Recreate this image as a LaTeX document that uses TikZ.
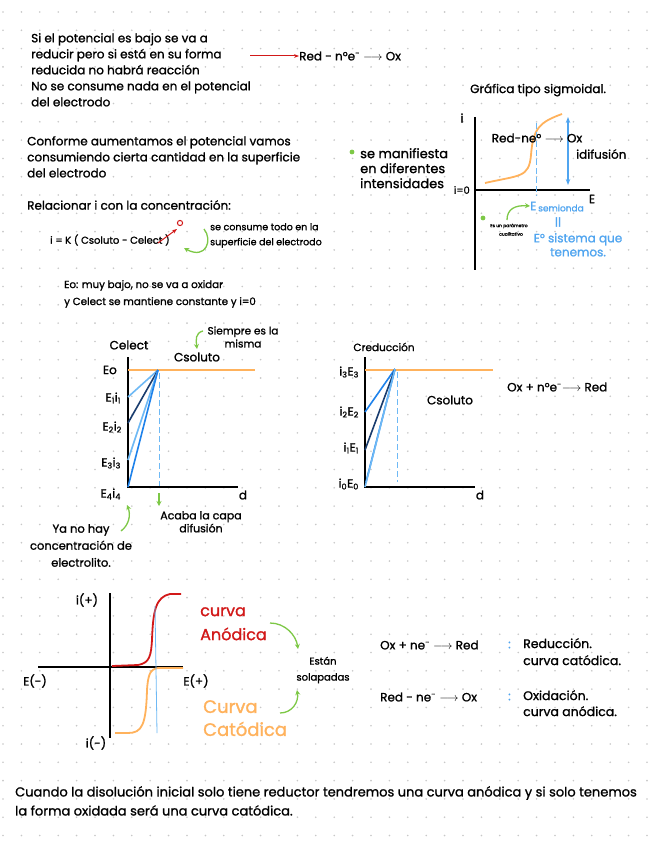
\documentclass[tikz,border=0pt]{standalone}
\usepackage{fontspec}
\setmainfont{Poppins}[FakeBold=1.2]
\usetikzlibrary{arrows.meta, positioning, calc}
\definecolor{curveorange}{RGB}{255,178,92}
\definecolor{skyblue}{RGB}{110,185,245}
\definecolor{midblue}{RGB}{30,130,235}
\definecolor{deepnavy}{RGB}{25,60,110}
\definecolor{leafgreen}{RGB}{125,200,70}
\definecolor{anodered}{RGB}{210,25,25}
\definecolor{dotgrey}{RGB}{200,200,200}
\definecolor{notesblue}{RGB}{80,165,240}

\begin{document}
\begin{tikzpicture}[x=1pt, y=-1pt,
        note/.style={font=\fontsize{12}{16}\selectfont, align=left, anchor=north west, inner sep=0pt},
        label/.style={font=\fontsize{12}{13}\selectfont, inner sep=0pt},
        tiny/.style={font=\fontsize{10.5}{13}\selectfont, inner sep=0pt, align=center},
        axis/.style={line width=1.6pt, black},
        flat/.style={draw=curveorange, line width=1.8pt},
        profile/.style={line width=1.6pt},
        guide/.style={draw=skyblue, dashed, dash pattern=on 6pt off 3pt, line width=0.9pt},
        garrow/.style={-{Stealth[length=5pt, width=5pt]}, draw=leafgreen, line width=1.3pt},
        redarrow/.style={-{Stealth[length=5pt]}, draw=anodered, line width=1pt},
        big/.style={font=\fontsize{16}{24}\selectfont, align=left, anchor=north west, inner sep=0pt}
    ]
        \useasboundingbox[fill=white] (0,0) rectangle (656,848);
        \foreach \gx in {0,...,35}
            \foreach \gy in {0,...,46}
                \fill[dotgrey] (3+18.4*\gx, 12+18.3*\gy) circle[radius=0.9pt];

        % top notes
        \node[note] (lowpot) at (31,33) {Si el potencial es bajo se va a\\reducir pero si está en su forma\\reducida no habrá reacción\\No se consume nada en el potencial\\del electrodo};
        \coordinate (redtail) at (250,56);
        \node[note, anchor=west] (oxid1) at (299,56) {Red - n°e\textsuperscript{-} $\longrightarrow$ Ox};
        \draw[redarrow] (redtail) -- (oxid1.west);

        \node[note] (raise) at (27,136) {Conforme aumentamos el potencial vamos\\consumiendo cierta cantidad en la superficie\\del electrodo};
        \node[note] (relate) at (27,200) {Relacionar i con la concentración:};
        \node[note, anchor=west, font=\fontsize{10}{16}\selectfont] (formula) at (50,240) {i = K ( Csoluto - Celect )};
        \coordinate (strikeA) at (158,243);
        \coordinate (strikeB) at (177,229);
        \draw[redarrow] (strikeA) -- (strikeB);
        \draw[anodered, line width=1pt] (180,223) circle[radius=2.6pt];
        \coordinate (gtop) at (204,229);
        \coordinate (gend) at (184,248);
        \draw[garrow] (gtop) .. controls (213,240) and (206,260) .. (gend);
        \node[note, font=\fontsize{9.5}{15}\selectfont] (consume) at (210,223) {se consume todo en la\\superficie del electrodo};

        % sigmoid
        \node[note, anchor=west] (sigtitle) at (470,90) {Gráfica tipo sigmoidal.};
        \coordinate (sTop) at (475,117);
        \coordinate (sO) at (475,190);
        \coordinate (sBot) at (475,270);
        \coordinate (sEnd) at (590,190);
        \draw[axis] (sTop) -- (sBot);
        \draw[axis] (sO) -- (sEnd);
        \node[label] (iax) at (462,118) {i};
        \node[label, anchor=east, font=\fontsize{10}{12}\selectfont] (izero) at (470,190) {i=0};
        \node[label] (Eax) at (592,199) {E};
        \draw[flat] (485,183) .. controls (520,175) and (529,178) .. (531,155) .. controls (533,128) and (540,122) .. (562,114);
        \draw[guide] (536,123) -- (536,196);
        \draw[{Stealth[length=6pt]}-{Stealth[length=6pt]}, draw=notesblue, line width=1.8pt] (568,117) -- (568,185);
        \node[label] (sigreact) at (537,138) {Red-ne° $\longrightarrow$ Ox};
        \node[label, anchor=west] (idif) at (576,154) {idifusión};
        \node[label, text=notesblue, anchor=west] (Ehalf) at (530,206) {E};
        \node[tiny, font=\fontsize{9}{11}\selectfont, text=notesblue, anchor=west] (semi) at ([yshift=-2pt]Ehalf.east) {\,semionda};
        \node[tiny, text=notesblue] (equiv) at (558,222) {||};
        \node[note, text=notesblue, align=center, anchor=north, font=\fontsize{12}{14}\selectfont] (Esys) at (578,233) {E° sistema que\\tenemos.};
        \fill[leafgreen] (483,218) circle[radius=2.4pt];
        \node[font=\fontsize{4.5}{5}\selectfont, inner sep=0pt] (paramA) at (509,226) {Es un parámetro};
        \node[font=\fontsize{4.5}{5}\selectfont, inner sep=0pt] (paramB) at (511,234) {cualitativo};
        \draw[garrow] (507,220) .. controls (507,209) and (515,205) .. (Ehalf.west);

        \fill[leafgreen] (352,152) circle[radius=2.4pt];
        \node[note, font=\fontsize{13}{15}\selectfont] (manif) at (360,148) {se manifiesta\\en diferentes\\intensidades};

        \node[note, font=\fontsize{10.3}{17}\selectfont] (lowE) at (64,280) {Eo: muy bajo, no se va a oxidar\\y Celect se mantiene constante y i=0};

        % concentration profiles, left
        \coordinate (lTop) at (128,357);
        \coordinate (lO) at (128,487);
        \coordinate (lEnd) at (238,487);
        \coordinate (lP) at (158,370);
        \draw[axis] (lTop) -- (lO) -- (lEnd);
        \draw[flat] (128,370) -- (255,370);
        \draw[profile, skyblue] (lP) -- (128,397);
        \draw[profile, deepnavy] (lP) -- (128,423);
        \draw[profile, skyblue] (lP) -- (128,460);
        \draw[profile, midblue] (lP) -- (lO);
        \draw[guide] (159,373) -- (159,486);
        \node[label] (celect) at (129,345) {Celect};
        \node[label] (csol1) at (197,357) {Csoluto};
        \node[label, anchor=east] (e0) at (117,370) {Eo};
        \node[label, anchor=east] (e1) at (121,398) {E\textsubscript{1}i\textsubscript{1}};
        \node[label, anchor=east] (e2) at (122,427) {E\textsubscript{2}i\textsubscript{2}};
        \node[label, anchor=east] (e3) at (121,463) {E\textsubscript{3}i\textsubscript{3}};
        \node[label, anchor=east] (e4) at (121,494) {E\textsubscript{4}i\textsubscript{4}};
        \node[label] (dl) at (243,495) {d};
        \node[tiny, align=center] (same) at (243,337) {Siempre es la\\misma};
        \draw[garrow] (203,331) .. controls (195,333) and (196,340) .. (197,349);
        \coordinate (layerA) at (159,493);
        \coordinate (layerB) at (159,506);
        \draw[garrow] (layerA) -- (layerB);
        \node[tiny, align=center, font=\fontsize{11}{13}\selectfont, anchor=north] (layer) at (201,511) {Acaba la capa\\difusión};
        \node[tiny, align=center, font=\fontsize{11.5}{17}\selectfont, anchor=north] (noconc) at (81,524) {Ya no hay\\concentración de\\electrolito.};
        \coordinate (noconcA) at (121,531);
        \draw[garrow] (noconcA) .. controls (129,525) and (131,515) .. (127,505);

        % concentration profiles, right
        \coordinate (rTop) at (365,357);
        \coordinate (rO) at (365,487);
        \coordinate (rEnd) at (475,487);
        \coordinate (rP) at (395,369);
        \draw[axis] (rTop) -- (rO) -- (rEnd);
        \draw[flat] (365,370) -- (493,370);
        \draw[profile, midblue] (rP) -- (365,412);
        \draw[profile, deepnavy] (rP) -- (365,450);
        \draw[profile, midblue] (rP) -- (366,482);
        \draw[profile, skyblue] (rP) -- (rO);
        \draw[guide] (397,372) -- (397,482);
        \node[tiny] (cred) at (384,347) {Creducción};
        \node[label, anchor=east] (r3) at (359,372) {i\textsubscript{3}E\textsubscript{3}};
        \node[label, anchor=east] (r2) at (359,412) {i\textsubscript{2}E\textsubscript{2}};
        \node[label, anchor=east] (r1) at (359,448) {i\textsubscript{1}E\textsubscript{1}};
        \node[label, anchor=east] (r0) at (359,484) {i\textsubscript{0}E\textsubscript{0}};
        \node[label] (dr) at (480,495) {d};
        \node[label] (csol2) at (450,400) {Csoluto};
        \node[label, anchor=west] (redreact) at (507,387) {Ox + n°e\textsuperscript{-}$\longrightarrow$ Red};

        % anodic and cathodic curves
        \coordinate (cTop) at (110,593);
        \coordinate (cBot) at (110,738);
        \coordinate (cLeft) at (38,667);
        \coordinate (cRight) at (183,667);
        \draw[axis] (cTop) -- (cBot);
        \draw[axis] (cLeft) -- (cRight);
        \draw[draw=anodered, line width=1.8pt] (112,666) -- (138,665) .. controls (150,663) and (151,655) .. (152,640) .. controls (153,610) and (156,597) .. (170,594) -- (181,594);
        \draw[flat] (183,668) -- (158,668) .. controls (150,669) and (148,675) .. (147,690) .. controls (146,725) and (142,733) .. (128,733) -- (115,733);
        \draw[skyblue, line width=0.8pt] (155,606) -- (157,733);
        \node[label] (ipos) at (87,600) {i(+)};
        \node[label] (ineg) at (96,743) {i(-)};
        \node[label] (eneg) at (35,681) {E(-)};
        \node[label] (epos) at (196,681) {E(+)};
        \node[big, text=anodered] (anodic) at (200,607) {curva\\Anódica};
        \node[big, text=curveorange, font=\fontsize{18}{23}\selectfont] (cathodic) at (203,700) {Curva\\Catódica};
        \node[tiny, font=\fontsize{10}{16}\selectfont] (overlap) at (323,670) {Están\\solapadas};
        \draw[garrow] (270,623) .. controls (285,623) and (296,635) .. (298,649);
        \draw[garrow] (280,713) .. controls (292,713) and (299,702) .. (297,690);

        \node[note, anchor=west] (redux) at (380,645) {Ox + ne\textsuperscript{-} $\longrightarrow$ Red};
        \node[note, anchor=west, text=notesblue] (col1) at (508,645) {:};
        \node[note, font=\fontsize{12.5}{17}\selectfont] (reduxtxt) at (523,638) {Reducción.\\curva catódica.};
        \node[note, anchor=west] (oxid2) at (380,697) {Red - ne\textsuperscript{-} $\longrightarrow$ Ox};
        \node[note, anchor=west, text=notesblue] (col2) at (508,697) {:};
        \node[note, font=\fontsize{12.5}{16}\selectfont] (oxidtxt) at (523,690) {Oxidación.\\curva anódica.};

        \node[note, font=\fontsize{13}{19}\selectfont] (closing) at (15,786) {Cuando la disolución inicial solo tiene reductor tendremos una curva anódica y si solo tenemos\\la forma oxidada será una curva catódica.};
    \end{tikzpicture}
\end{document}
